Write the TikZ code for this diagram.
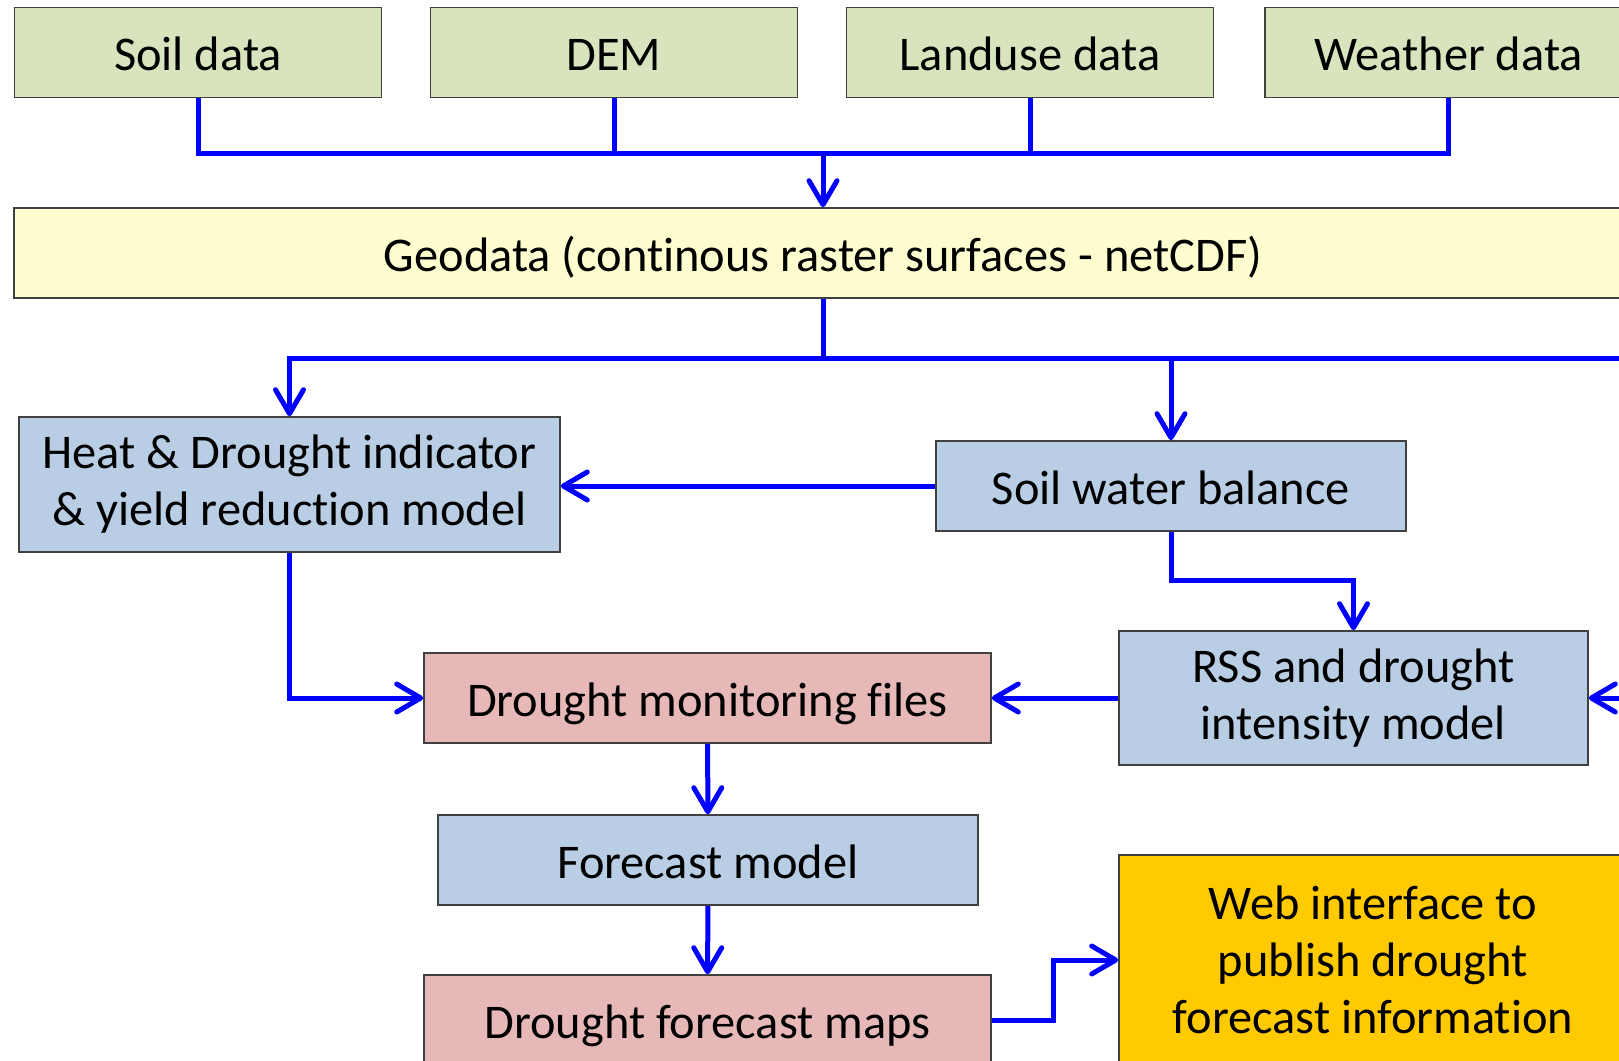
\documentclass[tikz,border=0pt]{standalone}
\usepackage{fontspec}
\setmainfont{Carlito}[Ligatures=NoCommon]
\definecolor{datagreen}{HTML}{D7E4BD}
\definecolor{geoyellow}{HTML}{FDFDCF}
\definecolor{modelblue}{HTML}{B9CDE5}
\definecolor{filepink}{HTML}{E6B9B8}
\definecolor{webgold}{HTML}{FFCA00}
\usetikzlibrary{arrows.meta, positioning}

\begin{document}
\begin{tikzpicture}[x=0.5pt, y=-0.5pt,
  box/.style={draw=black!75, line width=0.8pt, minimum height=45pt, inner sep=0pt,
              align=center, font=\fontsize{24.2}{28.5}\selectfont},
  oneline/.style={box, text height=19pt, text depth=1pt},
  flow/.style={draw=blue, line width=2.5pt},
  arrow/.style={flow, -{Straight Barb[length=12pt, width=14pt, round]}}]

  \useasboundingbox (0,0) rectangle (1619,1061);
  \fill[white] (0,0) rectangle (1619,1061);
  \clip (0,0) rectangle (1619,1061);

  \node[oneline, fill=datagreen, minimum width=183.5pt] (soil) at (198,52.5) {Soil data};
  \node[oneline, fill=datagreen, minimum width=183.5pt] (dem) at (614,52.5) {DEM};
  \node[oneline, fill=datagreen, minimum width=183.5pt] (landuse) at (1030,52.5) {Landuse data};
  \node[oneline, fill=datagreen, minimum width=183.5pt] (weather) at (1448.5,52.5) {Weather data};

  \node[oneline, fill=geoyellow, minimum width=809pt] (geo) at (823,253) {Geodata (continous raster surfaces - netCDF)};

  \node[box, fill=modelblue, minimum width=270.5pt, minimum height=67.5pt] (heat) at (289.5,484.5) {Heat \& Drought indicator\\\& yield reduction model};
  \node[oneline, fill=modelblue, minimum width=235pt] (swb) at (1171,486) {Soil water balance};
  \node[box, fill=modelblue, minimum width=234.5pt, minimum height=67pt] (rss) at (1353.5,698) {RSS and drought\\intensity model};

  \node[oneline, fill=filepink, minimum width=283.5pt] (monitor) at (707.5,698) {Drought monitoring files};
  \node[oneline, fill=modelblue, minimum width=270pt] (forecast) at (708,860) {Forecast model};
  \node[oneline, fill=filepink, minimum width=283.5pt] (maps) at (707.5,1020) {Drought forecast maps};
  \node[box, fill=webgold, minimum width=254pt, minimum height=105pt] (web) at (1373,960) {Web interface to\\publish drought\\forecast information};

  \coordinate (hub) at (823,153);
  \coordinate (split) at (823,358);

  \draw[flow] (soil.south) |- (hub) -| (weather.south);
  \draw[flow] (dem.south) -- (dem.south |- hub);
  \draw[flow] (landuse.south) -- (landuse.south |- hub);
  \draw[arrow] (hub) -- (geo.north);

  \draw[flow] (geo.south) -- (split);
  \draw[arrow] (split) -| (heat.north);
  \draw[arrow] (split) -| (swb.north);
  \draw[arrow] (split) -- (1680,358) |- (rss.east);

  \draw[arrow] (swb.west) -- (swb.west -| heat.east);
  \draw[arrow] (swb.south) -- ++(0,49) -| (rss.north);
  \draw[arrow] (heat.south) |- (monitor.west);
  \draw[arrow] (rss.west) -- (monitor.east);
  \draw[arrow] (monitor) -- (forecast);
  \draw[arrow] (forecast) -- (maps);
  \draw[arrow] (maps.east) -- ++(62,0) |- (web.west);
\end{tikzpicture}
\end{document}
